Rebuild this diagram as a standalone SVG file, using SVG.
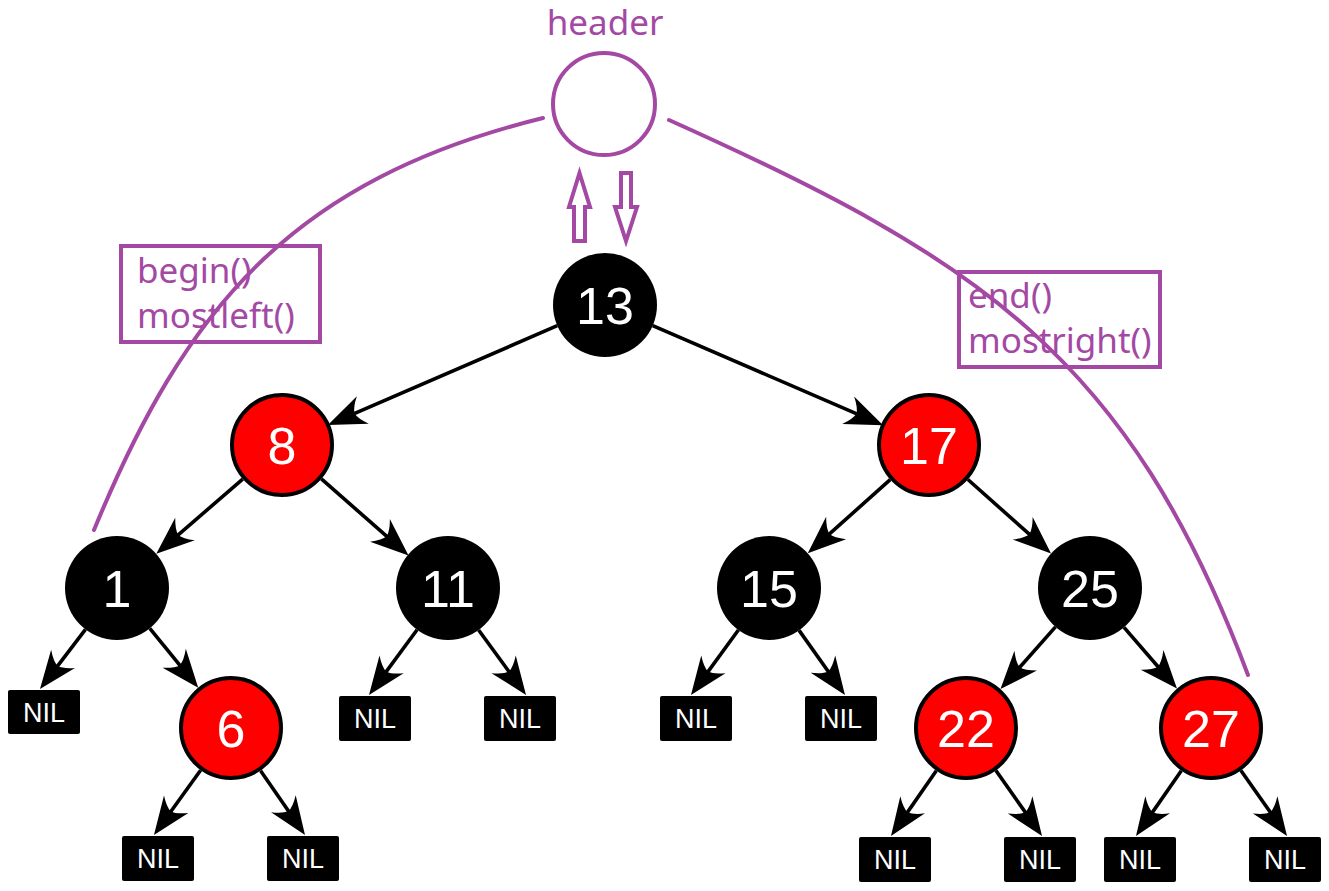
<svg xmlns="http://www.w3.org/2000/svg" width="1329" height="891" viewBox="0 0 1329 891">
<style>
.bk{fill:#000}
.rd{fill:#ff0000;stroke:#000;stroke-width:4}
.num{font-family:"Liberation Sans",Arial,sans-serif;font-size:52px;fill:#fff;text-anchor:middle}
.nil rect{fill:#000}
.nil text{font-family:"Liberation Sans",Arial,sans-serif;font-size:27px;fill:#fff;text-anchor:middle}
.edge{stroke:#000;stroke-width:3.6;fill:none;marker-end:url(#ah)}
.pl{stroke:#A349A4;stroke-width:4;fill:none}
.pt{font-family:"Noto Sans","Open Sans",sans-serif;font-size:35px;fill:#A349A4}
</style>
<defs>
<marker id="ah" markerUnits="userSpaceOnUse" markerWidth="50" markerHeight="40" viewBox="-25 -20 50 40" refX="0" refY="0" orient="auto">
<path d="M16,0 L-22,-15 Q-14,-6 -13,0 Q-14,6 -22,15 Z" fill="#000"/>
</marker>
</defs>
<rect width="1329" height="891" fill="#fff"/>

<g id="header">
<text class="pt" x="605" y="35" text-anchor="middle" font-size="34">header</text>
<circle cx="604" cy="104" r="51" class="pl" fill="#fff"/>
</g>

<g id="header-arrows" class="pl" fill="#fff">
<polygon points="579.5,173 590,207 585,207 585,241 574,241 574,207 569,207" fill="#fff"/>
<polygon points="621,173 631,173 631,207 637,207 626,241 615,207 621,207" fill="#fff"/>
</g>

<g id="label-begin">
<rect x="121" y="246" width="199" height="96" class="pl"/>
<text class="pt" x="137" y="283">begin()</text>
<text class="pt" x="137" y="328">mostleft()</text>
</g>
<g id="label-end">
<rect x="959" y="272" width="201" height="95" class="pl"/>
<text class="pt" x="968" y="308">end()</text>
<text class="pt" x="968" y="353">mostright()</text>
</g>

<g id="connectors">
<line class="edge" x1="557.3" y1="325.7" x2="342.6" y2="418.7"/>
<line class="edge" x1="652.7" y1="325.6" x2="868.4" y2="418.9"/>
<line class="edge" x1="242.7" y1="479.1" x2="168.4" y2="543.4"/>
<line class="edge" x1="321.4" y1="478.9" x2="396.5" y2="544.9"/>
<line class="edge" x1="890.2" y1="479.7" x2="819.7" y2="542.6"/>
<line class="edge" x1="967.9" y1="479.5" x2="1039.1" y2="542.9"/>
<line class="edge" x1="149.8" y1="628.3" x2="188.1" y2="675.3"/>
<line class="edge" x1="1055.5" y1="626.9" x2="1011.1" y2="677.1"/>
<line class="edge" x1="1124.0" y1="627.4" x2="1166.5" y2="676.5"/>
<line class="edge" x1="85.5" y1="629.4" x2="49.7" y2="676.3"/>
<line class="edge" x1="417.1" y1="629.8" x2="378.5" y2="682.1"/>
<line class="edge" x1="478.6" y1="630.0" x2="516.6" y2="682.1"/>
<line class="edge" x1="738.4" y1="630.0" x2="700.4" y2="682.1"/>
<line class="edge" x1="799.1" y1="630.4" x2="835.7" y2="682.0"/>
<line class="edge" x1="200.6" y1="770.2" x2="163.3" y2="822.0"/>
<line class="edge" x1="260.6" y1="770.8" x2="295.9" y2="821.8"/>
<line class="edge" x1="936.3" y1="770.7" x2="900.1" y2="822.9"/>
<line class="edge" x1="995.9" y1="770.5" x2="1032.8" y2="822.9"/>
<line class="edge" x1="1181.3" y1="770.7" x2="1145.1" y2="822.9"/>
<line class="edge" x1="1240.9" y1="770.5" x2="1277.8" y2="822.9"/>
</g>

<g id="n13"><circle cx="605" cy="305" r="52" class="bk"/><text class="num" x="605" y="324">13</text></g>
<g id="n8"><circle cx="282" cy="445" r="50" class="rd"/><text class="num" x="282" y="464">8</text></g>
<g id="n17"><circle cx="929" cy="445" r="50" class="rd"/><text class="num" x="929" y="464">17</text></g>
<g id="n1"><circle cx="117" cy="588" r="52" class="bk"/><text class="num" x="117" y="607">1</text></g>
<g id="n11"><circle cx="448" cy="588" r="52" class="bk"/><text class="num" x="448" y="607">11</text></g>
<g id="n15"><circle cx="769" cy="588" r="52" class="bk"/><text class="num" x="769" y="607">15</text></g>
<g id="n25"><circle cx="1090" cy="588" r="52" class="bk"/><text class="num" x="1090" y="607">25</text></g>
<g id="n6"><circle cx="231" cy="728" r="50" class="rd"/><text class="num" x="231" y="747">6</text></g>
<g id="n22"><circle cx="966" cy="728" r="50" class="rd"/><text class="num" x="966" y="747">22</text></g>
<g id="n27"><circle cx="1211" cy="728" r="50" class="rd"/><text class="num" x="1211" y="747">27</text></g>

<g id="nil-1" class="nil"><rect x="8" y="690" width="72" height="44" rx="2"/><text x="44" y="722">NIL</text></g>
<g id="nil-11l" class="nil"><rect x="339" y="696" width="72" height="45" rx="2"/><text x="375" y="728">NIL</text></g>
<g id="nil-11r" class="nil"><rect x="484" y="696" width="72" height="45" rx="2"/><text x="520" y="728">NIL</text></g>
<g id="nil-15l" class="nil"><rect x="660" y="696" width="72" height="45" rx="2"/><text x="696" y="728">NIL</text></g>
<g id="nil-15r" class="nil"><rect x="805" y="696" width="72" height="45" rx="2"/><text x="841" y="728">NIL</text></g>
<g id="nil-6l" class="nil"><rect x="122" y="836" width="72" height="45" rx="2"/><text x="158" y="868">NIL</text></g>
<g id="nil-6r" class="nil"><rect x="267" y="836" width="72" height="45" rx="2"/><text x="303" y="868">NIL</text></g>
<g id="nil-22l" class="nil"><rect x="859" y="837" width="72" height="45" rx="2"/><text x="895" y="869">NIL</text></g>
<g id="nil-22r" class="nil"><rect x="1004" y="837" width="72" height="45" rx="2"/><text x="1040" y="869">NIL</text></g>
<g id="nil-27l" class="nil"><rect x="1104" y="837" width="72" height="45" rx="2"/><text x="1140" y="869">NIL</text></g>
<g id="nil-27r" class="nil"><rect x="1249" y="837" width="72" height="45" rx="2"/><text x="1285" y="869">NIL</text></g>

<g id="header-links">
<path class="pl" stroke-linecap="round" d="M94,530 C185,309 291,180 543,118"/>
<path class="pl" stroke-linecap="round" d="M669,120 C979,259 1129,357 1248,675"/>
</g>
</svg>
